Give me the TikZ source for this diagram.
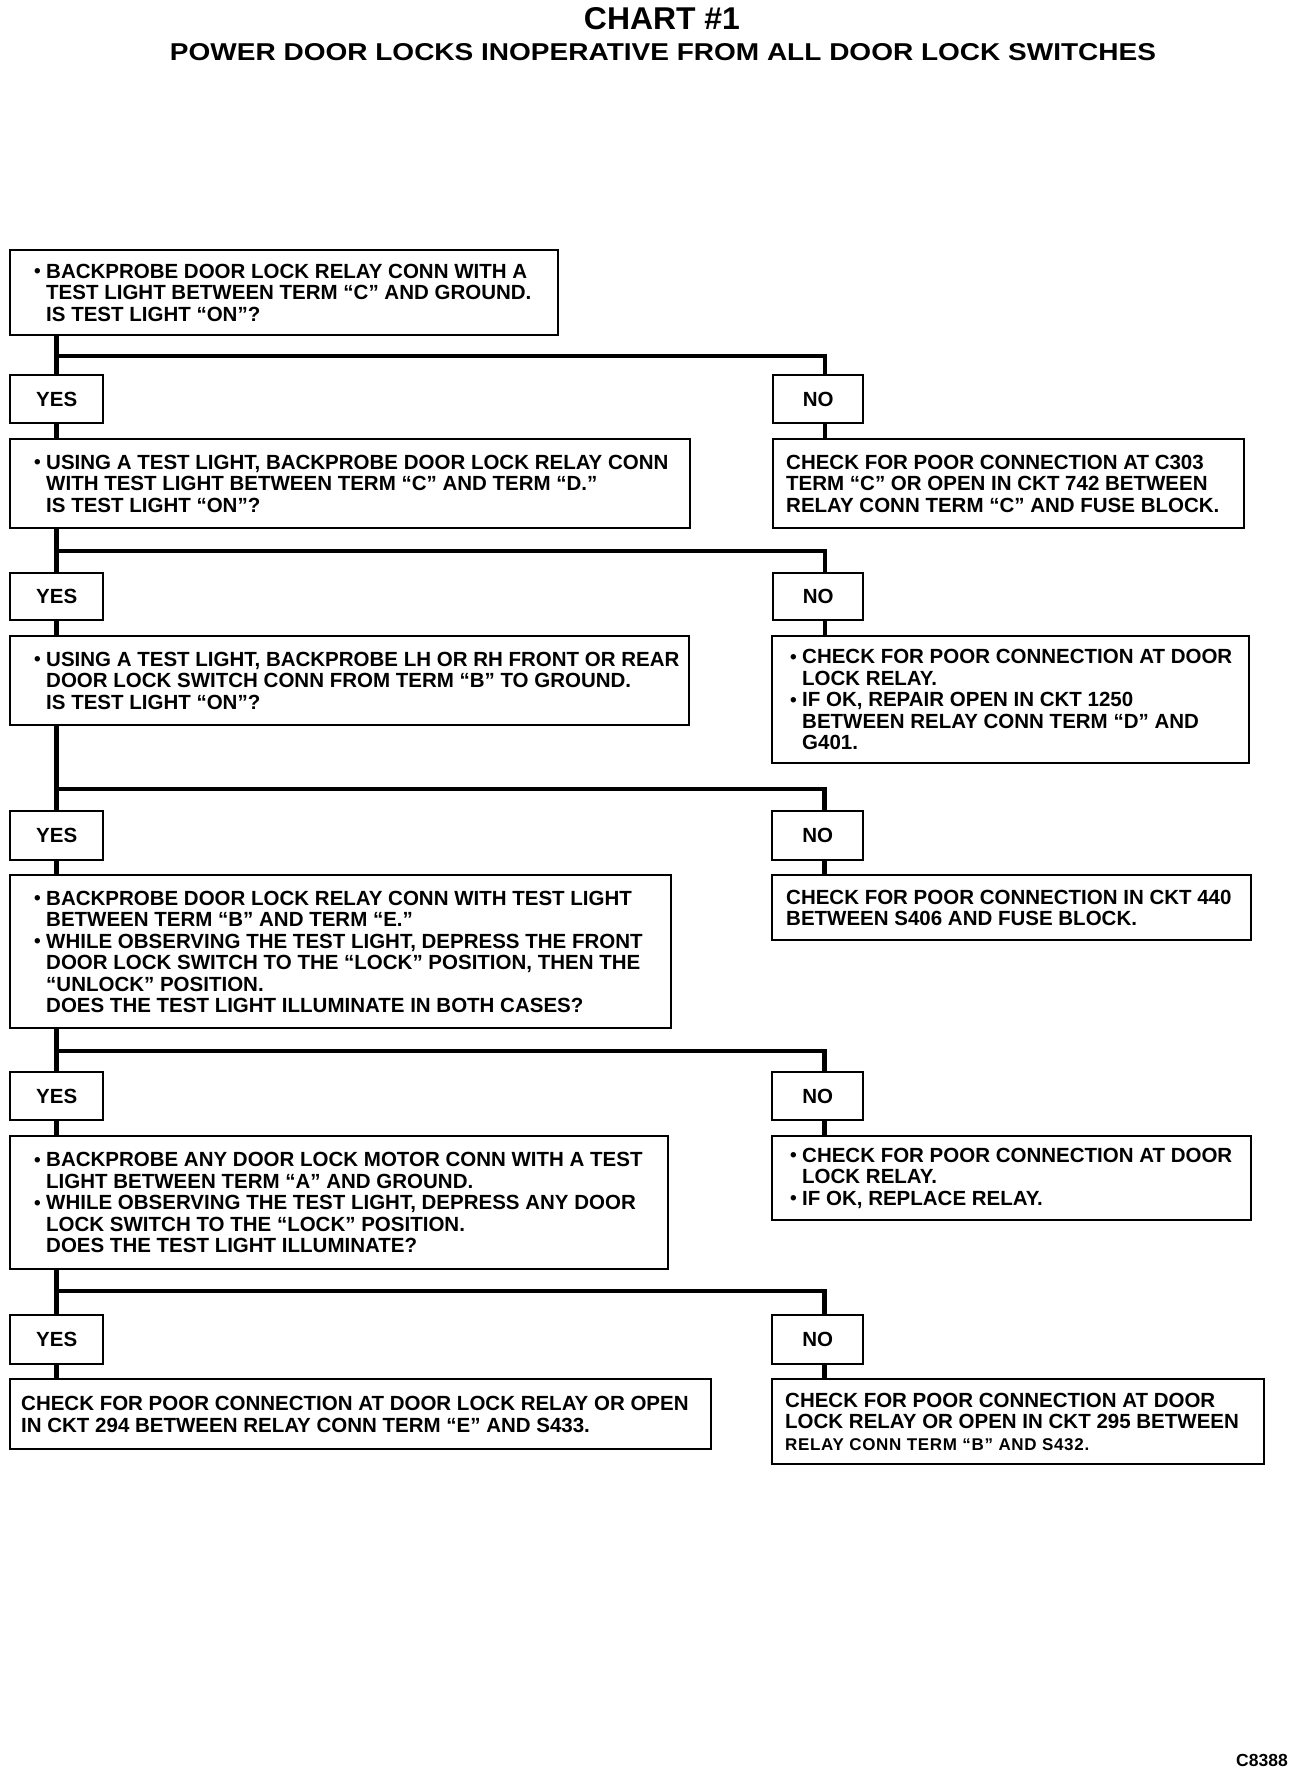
\documentclass[tikz,border=0pt]{standalone}
\usepackage{fontspec}
\setmainfont{Liberation Sans}
\usetikzlibrary{calc}
\newcommand\bul{\makebox[12pt][l]{\raisebox{0.5pt}{\fontsize{19}{19}\selectfont •}}}
\newcommand\ind{\hspace*{12pt}}
\begin{document}
\begin{tikzpicture}[x=1pt,y=-1pt,
  box/.style={draw, line width=2.4pt, rectangle, inner sep=0pt, anchor=north west,
    font=\fontsize{20.5}{21.5}\selectfont\bfseries},
  txt/.style={anchor=west, align=left, inner sep=0pt, font=\fontsize{20.5}{21.5}\selectfont\bfseries},
  conn/.style={line width=4.5pt}
]
\useasboundingbox (0,0) rectangle (1312,1772);

% titles
\node[inner sep=0pt, font=\bfseries] (title) at (662,19) {\resizebox{156pt}{22pt}{CHART \#1}};
\node[inner sep=0pt, font=\bfseries] (subtitle) at (663,52) {\resizebox{986pt}{17pt}{POWER DOOR LOCKS INOPERATIVE FROM ALL DOOR LOCK SWITCHES}};
\node[inner sep=0pt, font=\fontsize{17.5}{17.5}\selectfont\bfseries] (code) at (1262,1760) {C8388};

% boxes
\node[box, minimum width=548pt, minimum height=85pt] (b1) at (9,249) {};
\node[txt] (b1t) at ([xshift=25pt]b1.west) {\bul BACKPROBE DOOR LOCK RELAY CONN WITH A\\ \ind TEST LIGHT BETWEEN TERM “C” AND GROUND.\\ \ind IS TEST LIGHT “ON”?};

\node[box, minimum width=93pt, minimum height=48pt] (y1) at (9,374) {YES};
\node[box, minimum width=90pt, minimum height=48pt] (n1) at (772,374) {NO};

\node[box, minimum width=680pt, minimum height=89pt] (b2) at (9,438) {};
\node[txt] (b2t) at ([xshift=25pt]b2.west) {\bul USING A TEST LIGHT, BACKPROBE DOOR LOCK RELAY CONN\\ \ind WITH TEST LIGHT BETWEEN TERM “C” AND TERM “D.”\\ \ind IS TEST LIGHT “ON”?};

\node[box, minimum width=471pt, minimum height=89pt] (nb2) at (772,438) {};
\node[txt] (nb2t) at ([xshift=14pt]nb2.west) {CHECK FOR POOR CONNECTION AT C303\\ TERM “C” OR OPEN IN CKT 742 BETWEEN\\ RELAY CONN TERM “C” AND FUSE BLOCK.};

\node[box, minimum width=93pt, minimum height=47pt] (y2) at (9,572) {YES};
\node[box, minimum width=90pt, minimum height=47pt] (n2) at (772,572) {NO};

\node[box, minimum width=679pt, minimum height=89pt] (b3) at (9,635) {};
\node[txt] (b3t) at ([xshift=25pt]b3.west) {\bul USING A TEST LIGHT, BACKPROBE LH OR RH FRONT OR REAR\\ \ind DOOR LOCK SWITCH CONN FROM TERM “B” TO GROUND.\\ \ind IS TEST LIGHT “ON”?};

\node[box, minimum width=477pt, minimum height=127pt] (nb3) at (771,635) {};
\node[txt] (nb3t) at ([xshift=19pt]nb3.west) {\bul CHECK FOR POOR CONNECTION AT DOOR\\ \ind LOCK RELAY.\\ \bul IF OK, REPAIR OPEN IN CKT 1250\\ \ind BETWEEN RELAY CONN TERM “D” AND\\ \ind G401.};

\node[box, minimum width=93pt, minimum height=49pt] (y3) at (9,810) {YES};
\node[box, minimum width=91pt, minimum height=49pt] (n3) at (771,810) {NO};

\node[box, minimum width=661pt, minimum height=153pt] (b4) at (9,874) {};
\node[txt] (b4t) at ([xshift=25pt]b4.west) {\bul BACKPROBE DOOR LOCK RELAY CONN WITH TEST LIGHT\\ \ind BETWEEN TERM “B” AND TERM “E.”\\ \bul WHILE OBSERVING THE TEST LIGHT, DEPRESS THE FRONT\\ \ind DOOR LOCK SWITCH TO THE “LOCK” POSITION, THEN THE\\ \ind “UNLOCK” POSITION.\\ \ind DOES THE TEST LIGHT ILLUMINATE IN BOTH CASES?};

\node[box, minimum width=479pt, minimum height=65pt] (nb4) at (771,874) {};
\node[txt] (nb4t) at ([xshift=15pt]nb4.west) {CHECK FOR POOR CONNECTION IN CKT 440\\ BETWEEN S406 AND FUSE BLOCK.};

\node[box, minimum width=93pt, minimum height=48pt] (y4) at (9,1071) {YES};
\node[box, minimum width=91pt, minimum height=48pt] (n4) at (771,1071) {NO};

\node[box, minimum width=658pt, minimum height=133pt] (b5) at (9,1135) {};
\node[txt] (b5t) at ([xshift=25pt]b5.west) {\bul BACKPROBE ANY DOOR LOCK MOTOR CONN WITH A TEST\\ \ind LIGHT BETWEEN TERM “A” AND GROUND.\\ \bul WHILE OBSERVING THE TEST LIGHT, DEPRESS ANY DOOR\\ \ind LOCK SWITCH TO THE “LOCK” POSITION.\\ \ind DOES THE TEST LIGHT ILLUMINATE?};

\node[box, minimum width=479pt, minimum height=84pt] (nb5) at (771,1135) {};
\node[txt] (nb5t) at ([xshift=19pt]nb5.west) {\bul CHECK FOR POOR CONNECTION AT DOOR\\ \ind LOCK RELAY.\\ \bul IF OK, REPLACE RELAY.};

\node[box, minimum width=93pt, minimum height=49pt] (y5) at (9,1314) {YES};
\node[box, minimum width=91pt, minimum height=49pt] (n5) at (771,1314) {NO};

\node[box, minimum width=701pt, minimum height=70pt] (b6) at (9,1378) {};
\node[txt] (b6t) at ([xshift=12pt]b6.west) {CHECK FOR POOR CONNECTION AT DOOR LOCK RELAY OR OPEN\\ IN CKT 294 BETWEEN RELAY CONN TERM “E” AND S433.};

\node[box, minimum width=492pt, minimum height=85pt] (nb6) at (771,1378) {};
\node[txt] (nb6t) at ([xshift=14pt]nb6.west) {CHECK FOR POOR CONNECTION AT DOOR\\ LOCK RELAY OR OPEN IN CKT 295 BETWEEN\\ {\fontsize{17}{21.5}\selectfont\addfontfeature{LetterSpace=4}RELAY CONN TERM “B” AND S432.}};

% branch levels
\coordinate (k1) at (0,356);
\coordinate (k2) at (0,551);
\coordinate (k3) at (0,789);
\coordinate (k4) at (0,1051);
\coordinate (k5) at (0,1291);

% connectors
\draw[conn] (b1.south -| y1.north) -- (y1.north);
\draw[conn] (y1.north |- k1) -| ([xshift=7pt]n1.north);
\draw[conn] (y1.south) -- (y1.south |- b2.north);
\draw[conn] ([xshift=7pt]n1.south) -- ([xshift=7pt]n1.south |- nb2.north);

\draw[conn] (b2.south -| y2.north) -- (y2.north);
\draw[conn] (y2.north |- k2) -| ([xshift=7pt]n2.north);
\draw[conn] (y2.south) -- (y2.south |- b3.north);
\draw[conn] ([xshift=7pt]n2.south) -- ([xshift=7pt]n2.south |- nb3.north);

\draw[conn] (b3.south -| y3.north) -- (y3.north);
\draw[conn] (y3.north |- k3) -| ([xshift=7pt]n3.north);
\draw[conn] (y3.south) -- (y3.south |- b4.north);
\draw[conn] ([xshift=7pt]n3.south) -- ([xshift=7pt]n3.south |- nb4.north);

\draw[conn] (b4.south -| y4.north) -- (y4.north);
\draw[conn] (y4.north |- k4) -| ([xshift=7pt]n4.north);
\draw[conn] (y4.south) -- (y4.south |- b5.north);
\draw[conn] ([xshift=7pt]n4.south) -- ([xshift=7pt]n4.south |- nb5.north);

\draw[conn] (b5.south -| y5.north) -- (y5.north);
\draw[conn] (y5.north |- k5) -| ([xshift=7pt]n5.north);
\draw[conn] (y5.south) -- (y5.south |- b6.north);
\draw[conn] ([xshift=7pt]n5.south) -- ([xshift=7pt]n5.south |- nb6.north);
\end{tikzpicture}
\end{document}
